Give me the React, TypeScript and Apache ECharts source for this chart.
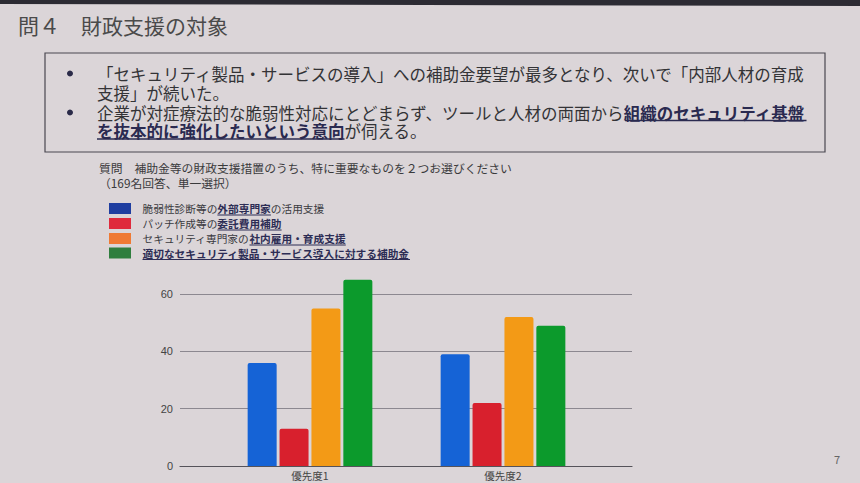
import { useEffect, useRef } from 'react';
import * as echarts from 'echarts';

const titleText = '問４　財政支援の対象';

// bullet lines: [plain text, underlined text, plain text]
const summaryLines = [
  ['「セキュリティ製品・サービスの導入」への補助金要望が最多となり、次いで「内部人材の育成', '', ''],
  ['支援」が続いた。', '', ''],
  ['企業が対症療法的な脆弱性対応にとどまらず、ツールと人材の両面から', '組織のセキュリティ基盤', ''],
  ['', 'を抜本的に強化したいという意向', 'が伺える。'],
];

const questionText = '質問　補助金等の財政支援措置のうち、特に重要なものを２つお選びください';
const answerNote = '（169名回答、単一選択）';

const categories = ['優先度1', '優先度2'];

const seriesNames = [
  '脆弱性診断等の外部専門家の活用支援',
  'パッチ作成等の委託費用補助',
  'セキュリティ専門家の社内雇用・育成支援',
  '適切なセキュリティ製品・サービス導入に対する補助金',
];

// legend label split into plain / underlined parts
const legendParts = [
  ['脆弱性診断等の', '外部専門家', 'の活用支援'],
  ['パッチ作成等の', '委託費用補助', ''],
  ['セキュリティ専門家の', '社内雇用・育成支援', ''],
  ['', '適切なセキュリティ製品・サービス導入に対する補助金', ''],
];

const expertSupport = [36, 39];
const outsourcingSubsidy = [13, 22];
const inHouseTraining = [55, 52];
const productSubsidy = [65, 49];

const barColors = ['#1563d6', '#d8202d', '#f39a16', '#0c9a2c'];
const legendColors = ['#1f3ea0', '#df2a3c', '#ef7a34', '#2f7e3e'];

const FONT = '"Noto Sans CJK JP", "Noto Sans", sans-serif';

function richLine(parts: string[]) {
  let s = '';
  if (parts[0]) s += `{n|${parts[0]}}`;
  if (parts[1]) s += `{u|${parts[1]}}`;
  if (parts[2]) s += `{n|${parts[2]}}`;
  return s;
}

export default function App() {
  const chartRef = useRef<HTMLDivElement>(null);

  useEffect(() => {
    if (!chartRef.current) return;
    const chart = echarts.init(chartRef.current, undefined, { renderer: 'svg' });

    const graphics: any[] = [];

    // dark top edge of the photographed screen
    graphics.push({
      type: 'polygon',
      shape: { points: [[0, 0], [860, 0], [860, 6], [0, 4]] },
      style: { fill: '#2c2b33' },
      silent: true,
    });

    graphics.push({
      type: 'text',
      x: 18,
      y: 25,
      style: {
        text: titleText,
        fontSize: 21,
        fontFamily: FONT,
        fill: '#4a4a4a',
        align: 'left',
        verticalAlign: 'middle',
        textAlign: 'left',
        textVerticalAlign: 'middle',
      },
    });

    // summary box
    graphics.push({
      type: 'rect',
      shape: { x: 45, y: 53, width: 780, height: 99 },
      style: { fill: 'none', stroke: '#4a4850', lineWidth: 1.2 },
    });

    const mainFs = 16.5;
    const mainX = 97;
    const lineY = [73.5, 93, 112.5, 131];
    [0, 2].forEach((i) => {
      graphics.push({
        type: 'circle',
        shape: { cx: 70, cy: lineY[i], r: 3 },
        style: { fill: '#2a2a48' },
      });
    });
    summaryLines.forEach((parts, i) => {
      graphics.push({
        type: 'text',
        x: mainX,
        y: lineY[i],
        style: {
          text: richLine(parts),
          fontFamily: FONT,
          fontSize: mainFs,
          lineHeight: 17,
          align: 'left',
          verticalAlign: 'middle',
          textAlign: 'left',
          textVerticalAlign: 'middle',
          rich: {
            n: { fontSize: mainFs, lineHeight: 17, fontFamily: FONT, fill: '#333336', color: '#333336' },
            u: {
              fontSize: mainFs,
              lineHeight: 17,
              fontFamily: FONT,
              fontWeight: 'bold',
              fill: '#2a2a50',
              color: '#2a2a50',
            },
          },
        },
      });
      if (parts[1]) {
        const x1 = mainX + parts[0].length * mainFs;
        const x2 = x1 + parts[1].length * mainFs;
        graphics.push({
          type: 'line',
          shape: { x1, y1: lineY[i] + 8, x2, y2: lineY[i] + 8 },
          style: { stroke: '#2a2a50', lineWidth: 1.5 },
        });
      }
    });

    // question
    graphics.push({
      type: 'text',
      x: 99,
      y: 167.5,
      style: {
        text: questionText,
        fontSize: 11.8,
        fontFamily: FONT,
        fill: '#3a3a3c',
        align: 'left',
        verticalAlign: 'middle',
        textAlign: 'left',
        textVerticalAlign: 'middle',
      },
    });
    graphics.push({
      type: 'text',
      x: 99,
      y: 182.5,
      style: {
        text: answerNote,
        fontSize: 11.8,
        fontFamily: FONT,
        fill: '#3a3a3c',
        align: 'left',
        verticalAlign: 'middle',
        textAlign: 'left',
        textVerticalAlign: 'middle',
      },
    });

    // legend
    const legFs = 10.7;
    const legTextX = 142.5;
    const legY = [208.5, 223.5, 238.5, 253];
    legendParts.forEach((parts, i) => {
      graphics.push({
        type: 'rect',
        shape: { x: 109, y: legY[i] - 5.5, width: 22, height: 11 },
        style: { fill: legendColors[i] },
      });
      graphics.push({
        type: 'text',
        x: legTextX,
        y: legY[i],
        style: {
          text: richLine(parts),
          fontFamily: FONT,
          fontSize: legFs,
          align: 'left',
          verticalAlign: 'middle',
          textAlign: 'left',
          textVerticalAlign: 'middle',
          rich: {
            n: { fontSize: legFs, fontFamily: FONT, fill: '#3a3a40', color: '#3a3a40' },
            u: { fontSize: legFs, fontFamily: FONT, fontWeight: 'bold', fill: '#2d2d55', color: '#2d2d55' },
          },
        },
      });
      const x1 = legTextX + parts[0].length * legFs;
      const x2 = x1 + parts[1].length * legFs;
      graphics.push({
        type: 'line',
        shape: { x1, y1: legY[i] + 6.5, x2, y2: legY[i] + 6.5 },
        style: { stroke: '#2d2d55', lineWidth: 1 },
      });
    });

    // page number
    graphics.push({
      type: 'text',
      x: 837,
      y: 459,
      style: {
        text: '7',
        fontSize: 11,
        fontFamily: FONT,
        fill: '#666',
        align: 'center',
        verticalAlign: 'middle',
        textAlign: 'center',
        textVerticalAlign: 'middle',
      },
    });

    const values = [expertSupport, outsourcingSubsidy, inHouseTraining, productSubsidy];

    const option = {
      animation: false,
      backgroundColor: '#dbd5d8',
      textStyle: { fontFamily: FONT },
      graphic: graphics,
      grid: [
        // gridlines and y labels
        { left: 180, right: 228, top: 294, bottom: 17 },
        // bars
        { left: 213.5, right: 260.5, top: 265.5, bottom: 17 },
      ],
      xAxis: [
        {
          gridIndex: 0,
          type: 'category',
          data: categories,
          axisLine: { show: true, lineStyle: { color: '#55535a', width: 1.2 } },
          axisTick: { show: false },
          axisLabel: { show: false },
        },
        {
          gridIndex: 1,
          type: 'category',
          data: categories,
          axisLine: { show: false },
          axisTick: { show: false },
          axisLabel: { color: '#444', fontSize: 10.5, lineHeight: 11, margin: 4, fontFamily: FONT },
        },
      ],
      yAxis: [
        {
          gridIndex: 0,
          type: 'value',
          min: 0,
          max: 60,
          interval: 20,
          axisLine: { show: false },
          axisTick: { show: false },
          axisLabel: { color: '#444', fontSize: 11, margin: 7, fontFamily: 'Liberation Sans, Arial, sans-serif' },
          splitLine: { lineStyle: { color: '#8c8890', width: 1 } },
        },
        {
          gridIndex: 1,
          type: 'value',
          min: 0,
          max: 70,
          show: false,
          splitLine: { show: false },
        },
      ],
      series: seriesNames.map((name, i) => ({
        name,
        type: 'bar',
        xAxisIndex: 1,
        yAxisIndex: 1,
        data: values[i],
        barWidth: 29,
        barGap: '10%',
        itemStyle: { color: barColors[i], borderRadius: [2, 2, 0, 0] },
      })),
    };

    chart.setOption(option);

    return () => {
      chart.dispose();
    };
  }, []);

  return (
    <div
      ref={chartRef}
      style={{ position: 'fixed', left: 0, top: 0, width: '860px', height: '483px' }}
    />
  );
}
